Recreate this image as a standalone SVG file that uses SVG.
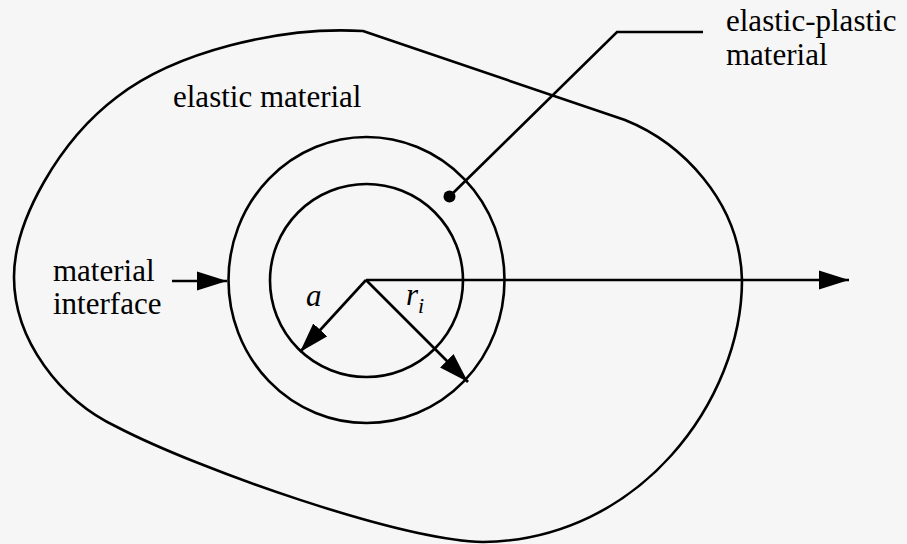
<svg xmlns="http://www.w3.org/2000/svg" width="907" height="544" viewBox="0 0 907 544">
<style>
.ln{fill:none;stroke:#000;stroke-width:2.6}
.tx{font-family:"Liberation Serif","Times New Roman",serif;font-size:31px;fill:#000}
.it{font-style:italic}
</style>
<defs>
<marker id="ah" markerUnits="userSpaceOnUse" viewBox="0 0 30 20" refX="30" refY="10" markerWidth="30" markerHeight="20" orient="auto">
<path d="M0,0.5 L30,10 L0,19.5 z" fill="#000"/>
</marker>
</defs>
<rect width="907" height="544" fill="#f6f6f6"/>
<g id="outer-body">
<path class="ln" d="M363,31 L625,120 C680,142 740,200 742,280 C742,400 640,540 483,542 C400,540 200,470 117,427 C60,400 14,340 14,277 C14,220 60,140 117,97 C175,52 280,26 363,31 Z"/>
</g>
<g id="interface-circle">
<ellipse class="ln" cx="366.5" cy="280" rx="138" ry="143"/>
</g>
<g id="inner-circle">
<circle class="ln" cx="366.5" cy="280.5" r="96.5"/>
</g>
<g id="connectors">
<line class="ln" x1="366" y1="280" x2="849" y2="280" marker-end="url(#ah)"/>
<line class="ln" x1="366" y1="280" x2="300" y2="352" marker-end="url(#ah)"/>
<line class="ln" x1="366" y1="280" x2="468" y2="382" marker-end="url(#ah)"/>
<line class="ln" x1="172" y1="281" x2="227" y2="281" marker-end="url(#ah)"/>
<polyline class="ln" points="449,197 617,32 703,32"/>
<circle cx="449.5" cy="196.5" r="6" fill="#000"/>
</g>
<g id="labels">
<text class="tx" x="173" y="107">elastic material</text>
<text class="tx" x="726" y="31">elastic-plastic</text>
<text class="tx" x="726" y="65">material</text>
<text class="tx" x="53" y="281">material</text>
<text class="tx" x="53" y="314">interface</text>
<text class="tx it" x="306" y="306">a</text>
<text class="tx it" x="406" y="305">r<tspan font-size="22" dy="8">i</tspan></text>
</g>
</svg>
